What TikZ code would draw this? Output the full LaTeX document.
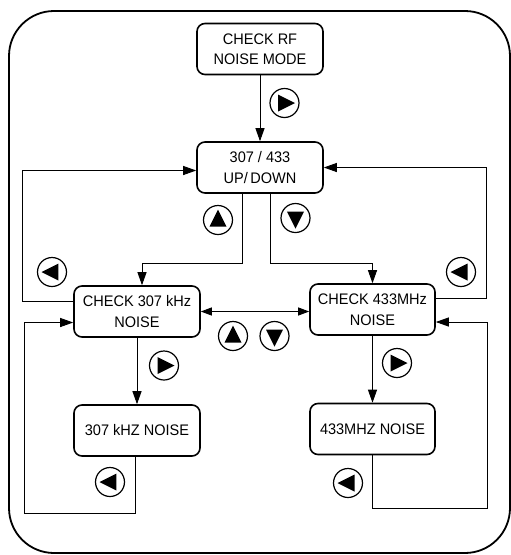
\documentclass[tikz,border=0pt]{standalone}
\usepackage{fontspec}
\setmainfont{Liberation Sans}[FakeStretch=0.95]
\usetikzlibrary{arrows.meta}

\begin{document}
\begin{tikzpicture}[x=1pt, y=-1pt,
    every node/.style={font=\fontsize{15.3}{20.5}\selectfont},
    box/.style={draw, line width=1.6pt, rounded corners=8pt, align=center,
      minimum width=126pt, minimum height=51pt, inner sep=0pt},
    btn/.style={circle, draw, line width=1.2pt, minimum size=29pt, inner sep=0pt,
      path picture={\fill[shift={(path picture bounding box.center)}]
        (#1:10.5pt) -- (#1+127.4:10.7pt) -- (#1-127.4:10.7pt) -- cycle;}},
    arr/.style={-{Triangle[length=13pt,width=9pt]}, line width=0.9pt},
    arrboth/.style={{Triangle[length=11pt,width=8pt]}-{Triangle[length=11pt,width=8pt]}, line width=0.9pt}]
  \useasboundingbox (0,0) rectangle (511,555);
  \draw[line width=1.8pt, rounded corners=45pt] (9,11) rectangle (510,553);

  % menu boxes
  \node[box] (rf) at (260,49) {CHECK RF\\NOISE MODE};
  \node[box] (updown) at (260,167.5) {307 / 433\\UP/\,DOWN};
  \node[box] (chk307) at (137,311.5) {CHECK 307 kHz\\NOISE};
  \node[box, minimum width=125pt] (chk433) at (372.5,309.5) {CHECK 433MHz\\NOISE};
  \node[box] (n307) at (137,430.5) {307 kHZ NOISE};
  \node[box, minimum width=125pt] (n433) at (372.5,429) {433MHZ NOISE};

  % keys
  \node[btn=0] (kright) at (284.5,103) {};
  \node[btn=90] (kup) at (218,220) {};
  \node[btn=-90] (kdown) at (295.5,218) {};
  \node[btn=180] (kleftA) at (52,272) {};
  \node[btn=180] (kleftB) at (461,272) {};
  \node[btn=90] (kupmid) at (233,336) {};
  \node[btn=-90] (kdownmid) at (274.5,336) {};
  \node[btn=0] (krightA) at (164,365.5) {};
  \node[btn=0] (krightB) at (397,363) {};
  \node[btn=180] (kleftC) at (110,482) {};
  \node[btn=180] (kleftD) at (348,483) {};

  % connectors
  \draw[arr] (rf) -- (updown);
  \draw[arr] ([xshift=-18pt]updown.south) -- ++(0,70) -| ([xshift=5pt]chk307.north);
  \draw[arr] ([xshift=10pt]updown.south) -- ++(0,70) -| (chk433.north);
  \draw[arr] ([yshift=10pt]chk307.west) -- ++(-51,0) |- ([yshift=-3pt]updown.west);
  \draw[arr] ([yshift=11pt]chk433.east) -- ++(51,0) |- (updown.east);
  \draw[arrboth] (chk307.east) -- (chk307.east -| chk433.west);
  \draw[arr] (chk307) -- (n307);
  \draw[arr] (chk433) -- (n433);
  \draw[arr] ([xshift=-2pt]n307.south) -- ++(0,57) -- ++(-111,0) |- ([yshift=-11pt]chk307.west);
  \draw[arr] (n433.south) -- ++(0,53) -- ++(115,0) |- ([yshift=-12.5pt]chk433.east);
\end{tikzpicture}
\end{document}
